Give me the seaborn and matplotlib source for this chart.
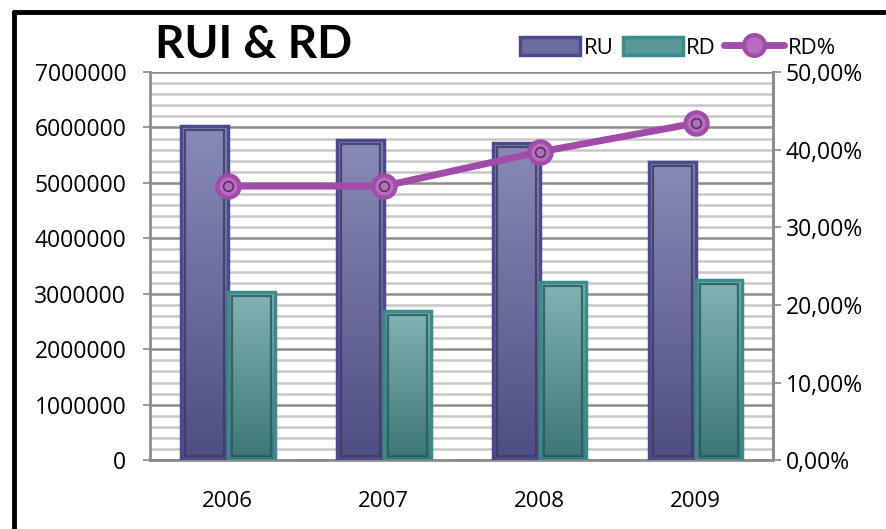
import matplotlib
matplotlib.use('Agg')
import matplotlib.pyplot as plt
import matplotlib.patches as mpatches
from matplotlib.lines import Line2D
from matplotlib.colors import LinearSegmentedColormap
from matplotlib.ticker import MultipleLocator, FuncFormatter
import seaborn as sns
import numpy as np
import pandas as pd

# Datos
anios = ['2006', '2007', '2008', '2009']
ru = [6030000, 5780000, 5720000, 5380000]
rd = [3030000, 2690000, 3210000, 3250000]
rd_pct = [0.353, 0.353, 0.397, 0.434]

sns.set_theme(style='white')
plt.rcParams['font.family'] = ['Open Sans', 'DejaVu Sans']
plt.rcParams['text.color'] = 'black'

df = pd.DataFrame({
    'Año': anios * 2,
    'Valor': ru + rd,
    'Serie': ['RU'] * 4 + ['RD'] * 4,
})

# Colores
colores = {'RU': '#6c6ca0', 'RD': '#5a9797'}
bordes = {'RU': '#4a4a8e', 'RD': '#3a8c8c'}
internos = {'RU': '#3c3c62', 'RD': '#2c5a5a'}
degradado = {'RU': ('#4e4e82', '#8a8ab8'), 'RD': ('#3c7676', '#82b4b4')}
color_linea = '#a04ca8'

fig = plt.figure(figsize=(8.87, 5.29), dpi=100)
ax = fig.add_axes([0.169, 0.13, 0.703, 0.734])

sns.barplot(data=df, x='Año', y='Valor', hue='Serie', palette=colores,
            width=0.6, gap=0, legend=False, ax=ax, zorder=3)

ax.set_xlim(-0.5, 3.5)
ax.set_ylim(0, 7000000)

# Conversión de píxeles a unidades de datos para el borde interior
ancho_px = 0.703 * 887
alto_px = 0.734 * 529
dx = 4 * 4.0 / ancho_px
dy = 4 * 7000000 / alto_px

# Barras con degradado y borde interior
for serie, cont in zip(['RU', 'RD'], ax.containers):
    cmap = LinearSegmentedColormap.from_list(serie, degradado[serie])
    for bar in cont:
        x0, y0 = bar.get_x(), bar.get_y()
        w, h = bar.get_width(), bar.get_height()
        ax.imshow(np.linspace(0, 1, 100).reshape(-1, 1), cmap=cmap, origin='lower',
                  extent=[x0, x0 + w, y0, y0 + h], aspect='auto', zorder=3.1)
        bar.set_facecolor('none')
        bar.set_edgecolor(bordes[serie])
        bar.set_linewidth(2.5)
        bar.set_zorder(3.3)
        ax.add_patch(mpatches.Rectangle((x0 + dx, y0 + dy), w - 2 * dx, h - 2 * dy,
                                        fill=False, edgecolor=internos[serie],
                                        lw=1.6, alpha=0.85, zorder=3.2))

ax.set_xlim(-0.5, 3.5)
ax.set_ylim(0, 7000000)

# Rejilla
ax.yaxis.set_major_locator(MultipleLocator(1000000))
ax.yaxis.set_minor_locator(MultipleLocator(200000))
ax.yaxis.set_major_formatter(FuncFormatter(lambda v, p: f'{int(v)}'))
ax.grid(which='major', axis='y', color='#8c8c8c', lw=1.8)
ax.grid(which='minor', axis='y', color='#c6c6c6', lw=1.8)
ax.set_axisbelow(True)

ax.set_xlabel('')
ax.set_ylabel('')
ax.tick_params(axis='y', which='major', length=5, color='#8c8c8c', pad=12,
               labelsize=16.5, labelcolor='black', left=True)
ax.tick_params(axis='y', which='minor', length=0)
ax.tick_params(axis='x', length=0, pad=22, labelsize=16, labelcolor='black')

for lado in ['left', 'right', 'bottom']:
    ax.spines[lado].set_color('#8c8c8c')
    ax.spines[lado].set_linewidth(2)
ax.spines['top'].set_visible(False)

# Eje secundario: RD%
ax2 = ax.twinx()
sns.lineplot(x=np.arange(len(anios)), y=rd_pct, ax=ax2, color=color_linea, lw=5,
             marker='o', ms=16, mfc='#b86cc0', mec=color_linea, mew=3, zorder=5)
ax2.plot(np.arange(len(anios)), rd_pct, ls='none', marker='o', ms=7,
         mfc='#b070b8', mec='#4a2a50', mew=1, zorder=6)
ax2.set_ylim(0, 0.5)
ax.set_xlim(-0.5, 3.5)
ax2.yaxis.set_major_locator(MultipleLocator(0.1))
ax2.yaxis.set_major_formatter(FuncFormatter(lambda v, p: f'{v * 100:.2f}%'.replace('.', ',')))
ax2.tick_params(axis='y', length=6, color='#8c8c8c', pad=3, labelsize=16.5,
                labelcolor='black', right=True)
ax2.grid(False)
for lado in ['top', 'left', 'bottom']:
    ax2.spines[lado].set_visible(False)
ax2.spines['right'].set_color('#8c8c8c')
ax2.spines['right'].set_linewidth(2)

# Título
fig.text(0.175, 0.915, 'RUI & RD', fontsize=33, fontweight='bold', color='black',
         family=['Lato', 'DejaVu Sans'], va='center', ha='left')

# Leyenda
leyenda = [
    mpatches.Patch(facecolor=colores['RU'], edgecolor=bordes['RU'], lw=2.5),
    mpatches.Patch(facecolor=colores['RD'], edgecolor=bordes['RD'], lw=2.5),
    Line2D([0], [0], color=color_linea, lw=5, marker='o', ms=15,
           mfc='#b86cc0', mec=color_linea, mew=3),
]
fig.legend(leyenda, ['RU', 'RD', 'RD%'], loc='center right',
           bbox_to_anchor=(0.965, 0.91), ncol=3, frameon=False, fontsize=16,
           labelcolor='black', handlelength=2.7, handleheight=0.9,
           handletextpad=0.15, columnspacing=0.4)

# Marco exterior
fig.add_artist(Line2D([0.0158, 0.0158], [0, 0.978], transform=fig.transFigure,
                      color='black', lw=3.5))
fig.add_artist(Line2D([0.0158, 1], [0.978, 0.978], transform=fig.transFigure,
                      color='black', lw=3.5))

fig.savefig('out.png', dpi=100)
